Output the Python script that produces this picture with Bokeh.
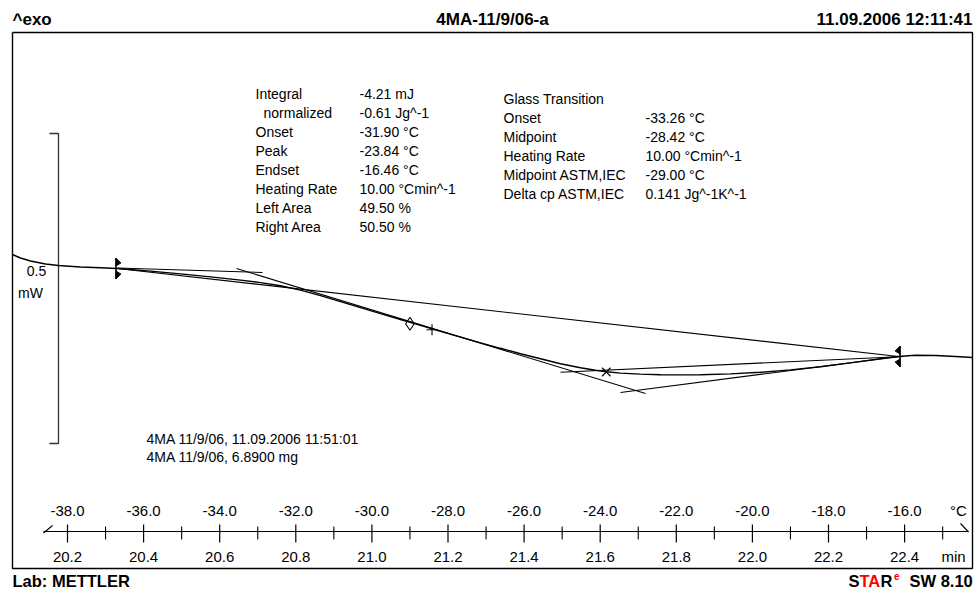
from bokeh.plotting import figure
from bokeh.models import Range1d
from bokeh.core.properties import value
from bokeh.embed import file_html
from bokeh.resources import INLINE

# ---------------------------------------------------------------------------
# DSC heating run 4MA-11/9/06-a : 10 °C/min, -38 °C at 20.2 min
# ---------------------------------------------------------------------------
time_ticks = [20.2, 20.4, 20.6, 20.8, 21.0, 21.2, 21.4, 21.6, 21.8, 22.0, 22.2, 22.4]
time_labels = ["20.2", "20.4", "20.6", "20.8", "21.0", "21.2",
               "21.4", "21.6", "21.8", "22.0", "22.2", "22.4"]
minor_ticks = [20.3, 20.5, 20.7, 20.9, 21.1, 21.3, 21.5, 21.7, 21.9, 22.1, 22.3, 22.5]
temp_labels = ["-38.0", "-36.0", "-34.0", "-32.0", "-30.0", "-28.0",
               "-26.0", "-24.0", "-22.0", "-20.0", "-18.0", "-16.0"]

START_TEMP, START_TIME, RATE = -38.0, 20.2, 10.0   # °C, min, °C/min

# heat flow curve: time (min) and heat flow (mW, exo up)
curve_time = [20.0555, 20.0765, 20.1028, 20.1422, 20.1763, 20.2342, 20.2867, 20.3314,
              20.4181, 20.4970, 20.5758, 20.6547, 20.7072, 20.7598, 20.8123, 20.8649,
              20.9175, 20.9700, 21.0226, 21.0752, 21.1277, 21.1803, 21.2328, 21.2854,
              21.3380, 21.3905, 21.4431, 21.4957, 21.5482, 21.5876, 21.6166, 21.6534,
              21.7059, 21.7585, 21.8110, 21.8636, 21.9424, 22.0213, 22.1001, 22.1790,
              22.2578, 22.3235, 22.3840, 22.4287, 22.4812, 22.5338, 22.5785]
curve_hf = [0.02258, 0.01694, 0.01210, 0.00726, 0.00484, 0.00242, 0.00113, 0.00000,
            -0.00419, -0.00871, -0.01355, -0.01871, -0.02274, -0.02790, -0.03484, -0.04387,
            -0.05339, -0.06306, -0.07274, -0.08226, -0.09177, -0.10129, -0.11065, -0.11984,
            -0.12871, -0.13742, -0.14565, -0.15371, -0.16016, -0.16419, -0.16661, -0.16871,
            -0.17032, -0.17129, -0.17161, -0.17129, -0.17000, -0.16742, -0.16355, -0.15839,
            -0.15226, -0.14677, -0.14194, -0.14000, -0.14032, -0.14194, -0.14355]

# integration limits (min) and the heat flow at each limit (mW)
limit_time = [20.3314, 22.3840]
limit_hf = [0.0, -0.14194]

# evaluation tangents, each as [start, end]
tangent_time = [[20.3314, 20.7125], [20.6442, 21.7190],
                [21.4957, 22.3971], [21.6534, 22.3840]]
tangent_hf = [[0.00081, -0.00645], [0.0, -0.20161],
              [-0.16726, -0.14194], [-0.20000, -0.14194]]

# characteristic points: Midpoint ASTM,IEC / Midpoint / Peak
mark_temp = [-29.00, -28.42, -23.84]
mark_hf = [-0.08919, -0.09887, -0.16694]
mark_kind = ["diamond", "cross", "x"]

scale_bar_mw = 0.5

peak_names = ["Integral", "normalized", "Onset", "Peak", "Endset",
              "Heating Rate", "Left Area", "Right Area"]
peak_values = ["-4.21 mJ", "-0.61 Jg^-1", "-31.90 °C", "-23.84 °C", "-16.46 °C",
               "10.00 °Cmin^-1", "49.50 %", "50.50 %"]
glass_names = ["Glass Transition", "Onset", "Midpoint", "Heating Rate",
               "Midpoint ASTM,IEC", "Delta cp ASTM,IEC"]
glass_values = ["", "-33.26 °C", "-28.42 °C", "10.00 °Cmin^-1", "-29.00 °C",
                "0.141 Jg^-1K^-1"]
sample_lines = ["4MA 11/9/06, 11.09.2006 11:51:01", "4MA 11/9/06, 6.8900 mg"]

# ---------------------------------------------------------------------------
# page geometry: the frame covers the whole page, so layout positions are
# given in page pixels and converted to time / heat flow
# ---------------------------------------------------------------------------
W, H = 976, 590
X0_PX, PX_PER_MIN = 67.0, 380.5
Y0_PX, PX_PER_MW = 268.0, 620.0


def tx(px):
    return START_TIME + (px - X0_PX) / PX_PER_MIN


def hy(py):
    return (Y0_PX - py) / PX_PER_MW


def t_of_temp(temp):
    return START_TIME + (temp - START_TEMP) / RATE


FONT = value("Liberation Sans")
BLACK = "#000000"
RED = "#ff0000"

p = figure(width=W, height=H, x_range=Range1d(tx(0), tx(W)), y_range=Range1d(hy(H), hy(0)),
           output_backend="svg", toolbar_location=None,
           x_axis_location=None, y_axis_location=None, min_border=0)
p.grid.visible = False
p.outline_line_color = None
p.background_fill_color = "white"
p.border_fill_color = "white"

# page frame
p.line([tx(12), tx(972), tx(972), tx(12), tx(12)],
       [hy(32), hy(32), hy(568), hy(568), hy(32)], line_color=BLACK, line_width=1.4)

# time axis with temperature labels above and time labels below
p.line([tx(43), tx(968)], [hy(531), hy(531)], line_color=BLACK, line_width=1.2)
p.segment(x0=[tx(43), tx(960)], y0=[hy(532.5), hy(523)],
          x1=[tx(52), tx(968)], y1=[hy(525), hy(531.5)], line_color=BLACK, line_width=1.1)
p.segment(x0=time_ticks, y0=[hy(524)] * len(time_ticks),
          x1=time_ticks, y1=[hy(542)] * len(time_ticks), line_color=BLACK, line_width=1.2)
p.segment(x0=minor_ticks, y0=[hy(526)] * len(minor_ticks),
          x1=minor_ticks, y1=[hy(539)] * len(minor_ticks), line_color=BLACK, line_width=1.1)
p.text(x=time_ticks, y=[hy(510)] * len(time_ticks), text=temp_labels,
       text_font=FONT, text_font_size="15px", text_align="center",
       text_baseline="middle", text_color=BLACK)
p.text(x=time_ticks, y=[hy(556)] * len(time_ticks), text=time_labels,
       text_font=FONT, text_font_size="15px", text_align="center",
       text_baseline="middle", text_color=BLACK)
p.text(x=[tx(958)], y=[hy(510)], text=["°C"], text_font=FONT, text_font_size="15px",
       text_align="center", text_baseline="middle", text_color=BLACK)
p.text(x=[tx(953)], y=[hy(556)], text=["min"], text_font=FONT, text_font_size="15px",
       text_align="center", text_baseline="middle", text_color=BLACK)

# heat-flow scale bar
bar_top = hy(133)
p.line([tx(49), tx(58), tx(58), tx(49)],
       [bar_top, bar_top, bar_top - scale_bar_mw, bar_top - scale_bar_mw],
       line_color="#333333", line_width=1.3)
p.text(x=[tx(36)], y=[hy(270)], text=["0.5"], text_font=FONT, text_font_size="14px",
       text_align="center", text_baseline="middle", text_color=BLACK)
p.text(x=[tx(30)], y=[hy(292)], text=["mW"], text_font=FONT, text_font_size="14px",
       text_align="center", text_baseline="middle", text_color=BLACK)

# integration baseline and tangents
p.line(limit_time, limit_hf, line_color=BLACK, line_width=1.1)
p.multi_line(xs=tangent_time, ys=tangent_hf, line_color=BLACK, line_width=1.1)

# measured curve
p.line(curve_time, curve_hf, line_color=BLACK, line_width=1.4)

# integration limit flags
half = 10.5 / PX_PER_MW
for t_lim, hf_lim, side in zip(limit_time, limit_hf, [1, -1]):
    xb = t_lim - side * 1.5 / PX_PER_MIN
    p.segment(x0=[xb], y0=[hf_lim + half], x1=[xb], y1=[hf_lim - half],
              line_color=BLACK, line_width=1.6)
    tip = xb + side * 5.0 / PX_PER_MIN
    p.patches(xs=[[xb, xb, tip], [xb, xb, tip]],
              ys=[[hf_lim + half, hf_lim + half - 8 / PX_PER_MW, hf_lim + half - 5 / PX_PER_MW],
                  [hf_lim - half, hf_lim - half + 8 / PX_PER_MW, hf_lim - half + 5 / PX_PER_MW]],
              fill_color=BLACK, line_color=BLACK, line_width=0.8)

# characteristic points
mark_time = [t_of_temp(t) for t in mark_temp]
p.scatter(x=mark_time, y=mark_hf, marker=mark_kind, size=[13, 11, 12],
          fill_color=None, line_color=BLACK, line_width=1.1)

# evaluation results
row = 19.05
p.text(x=[tx(255)] * len(peak_names), y=[hy(93.5 + row * i) for i in range(len(peak_names))],
       text=peak_names, x_offset=[0, 8, 0, 0, 0, 0, 0, 0],
       text_font=FONT, text_font_size="14px", text_align="left",
       text_baseline="middle", text_color=BLACK)
p.text(x=[tx(359)] * len(peak_values), y=[hy(93.5 + row * i) for i in range(len(peak_values))],
       text=peak_values, text_font=FONT, text_font_size="14px", text_align="left",
       text_baseline="middle", text_color=BLACK)
p.text(x=[tx(503)] * len(glass_names), y=[hy(98.3 + row * i) for i in range(len(glass_names))],
       text=glass_names, text_font=FONT, text_font_size="14px", text_align="left",
       text_baseline="middle", text_color=BLACK)
p.text(x=[tx(645)] * len(glass_values), y=[hy(98.3 + row * i) for i in range(len(glass_values))],
       text=glass_values, text_font=FONT, text_font_size="14px", text_align="left",
       text_baseline="middle", text_color=BLACK)
p.text(x=[tx(146)] * 2, y=[hy(438), hy(456)], text=sample_lines,
       text_font=FONT, text_font_size="14px", text_align="left",
       text_baseline="middle", text_color=BLACK)

# header line
p.text(x=[tx(12)], y=[hy(19)], text=["^exo"], text_font=FONT, text_font_size="17px",
       text_font_style="bold", text_align="left", text_baseline="middle", text_color=BLACK)
p.text(x=[tx(492)], y=[hy(19)], text=["4MA-11/9/06-a"], text_font=FONT,
       text_font_size="17px", text_font_style="bold", text_align="center",
       text_baseline="middle", text_color=BLACK)
p.text(x=[tx(972)], y=[hy(19)], text=["11.09.2006 12:11:41"], text_font=FONT,
       text_font_size="17px", text_font_style="bold", text_align="right",
       text_baseline="middle", text_color=BLACK)

# footer line
p.text(x=[tx(12)], y=[hy(580)], text=["Lab: METTLER"], text_font=FONT, text_font_size="16.5px",
       text_font_style="bold", text_align="left", text_baseline="middle", text_color=BLACK)
p.text(x=[tx(848), tx(859), tx(880), tx(909)], y=[hy(580)] * 4,
       text=["S", "TA", "R", "SW 8.10"], text_color=[BLACK, RED, BLACK, BLACK],
       text_font=FONT, text_font_size="16.5px", text_font_style="bold",
       text_align="left", text_baseline="middle")
p.text(x=[tx(893.5)], y=[hy(575)], text=["e"], text_color=RED, text_font=FONT,
       text_font_size="10px", text_font_style="bold", text_align="left",
       text_baseline="middle")

open("out.html", "w").write(file_html(p, INLINE))
